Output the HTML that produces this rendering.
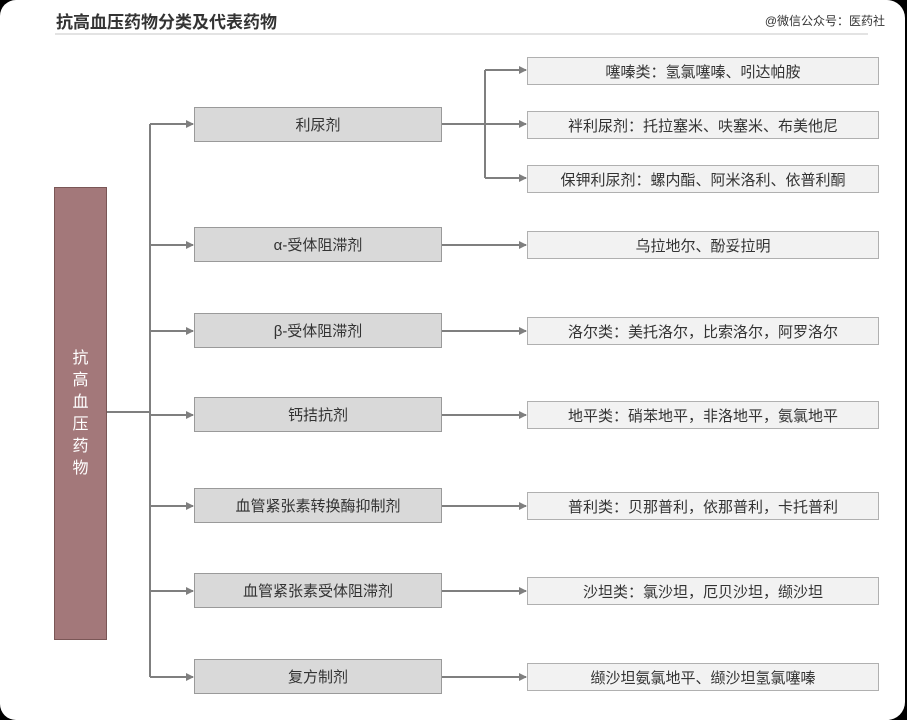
<!DOCTYPE html>
<html><head><meta charset="utf-8"><style>
html,body{margin:0;padding:0;background:#000;}
#pg{position:relative;width:905px;height:720px;background:#fff;border-radius:16px 18px 18px 16px;overflow:hidden;font-family:"Liberation Sans","Noto Sans CJK SC",sans-serif;}
.t{position:absolute;left:56px;top:8px;font-size:17px;font-weight:bold;color:#333;}
.src{position:absolute;right:20px;top:12px;font-size:12px;color:#333;}
.hr{position:absolute;left:55px;top:33px;width:813px;height:2px;background:#e3e3e3;}
.m{position:absolute;left:194px;width:246px;height:33px;background:#d9d9d9;border:1px solid #9a9a9a;box-sizing:content-box;font-size:15px;color:#333;display:flex;align-items:center;justify-content:center;}
.r{position:absolute;left:527px;width:350px;height:26px;background:#f2f2f2;border:1px solid #b0b0b0;font-size:15px;color:#333;display:flex;align-items:center;justify-content:center;}
.l{position:absolute;left:54px;top:187px;width:51px;height:451px;background:#a3787a;border:1px solid #7a5656;color:#fff;font-size:16px;display:flex;align-items:center;justify-content:center;line-height:22px;text-align:center;}
svg{position:absolute;left:0;top:0;}
</style></head><body><div id="pg">
<div class="t">抗高血压药物分类及代表药物</div>
<div class="src">@微信公众号：医药社</div>
<div class="hr"></div>
<svg width="905" height="720"><defs><marker id="a" markerWidth="8" markerHeight="8" refX="7" refY="4" orient="auto" markerUnits="userSpaceOnUse"><path d="M0,0L8,4L0,8z" fill="#7f7f7f"/></marker></defs>
<g stroke="#7f7f7f" stroke-width="2" fill="none">
<path d="M106,412H150"/>
<path d="M150,124V677"/>
<path d="M150,124H193" marker-end="url(#a)"/>
<path d="M150,245H193" marker-end="url(#a)"/>
<path d="M150,331H193" marker-end="url(#a)"/>
<path d="M150,415H193" marker-end="url(#a)"/>
<path d="M150,506H193" marker-end="url(#a)"/>
<path d="M150,591H193" marker-end="url(#a)"/>
<path d="M150,677H193" marker-end="url(#a)"/>
<path d="M442,124H526" marker-end="url(#a)"/>
<path d="M485,70V178"/>
<path d="M485,70H526" marker-end="url(#a)"/>
<path d="M485,178H526" marker-end="url(#a)"/>
<path d="M442,245H526" marker-end="url(#a)"/>
<path d="M442,331H526" marker-end="url(#a)"/>
<path d="M442,415H526" marker-end="url(#a)"/>
<path d="M442,506H526" marker-end="url(#a)"/>
<path d="M442,591H526" marker-end="url(#a)"/>
<path d="M442,677H526" marker-end="url(#a)"/>
</g></svg>
<div class="l">抗<br>高<br>血<br>压<br>药<br>物</div>
<div class="m" style="top:107px">利尿剂</div>
<div class="m" style="top:227px">α-受体阻滞剂</div>
<div class="m" style="top:313px">β-受体阻滞剂</div>
<div class="m" style="top:397px">钙拮抗剂</div>
<div class="m" style="top:488px">血管紧张素转换酶抑制剂</div>
<div class="m" style="top:573px">血管紧张素受体阻滞剂</div>
<div class="m" style="top:659px">复方制剂</div>
<div class="r" style="top:57px">噻嗪类：氢氯噻嗪、吲达帕胺</div>
<div class="r" style="top:111px">袢利尿剂：托拉塞米、呋塞米、布美他尼</div>
<div class="r" style="top:165px">保钾利尿剂：螺内酯、阿米洛利、依普利酮</div>
<div class="r" style="top:231px">乌拉地尔、酚妥拉明</div>
<div class="r" style="top:317px">洛尔类：美托洛尔，比索洛尔，阿罗洛尔</div>
<div class="r" style="top:401px">地平类：硝苯地平，非洛地平，氨氯地平</div>
<div class="r" style="top:492px">普利类：贝那普利，依那普利，卡托普利</div>
<div class="r" style="top:577px">沙坦类：氯沙坦，厄贝沙坦，缬沙坦</div>
<div class="r" style="top:663px">缬沙坦氨氯地平、缬沙坦氢氯噻嗪</div>
</div></body></html>
